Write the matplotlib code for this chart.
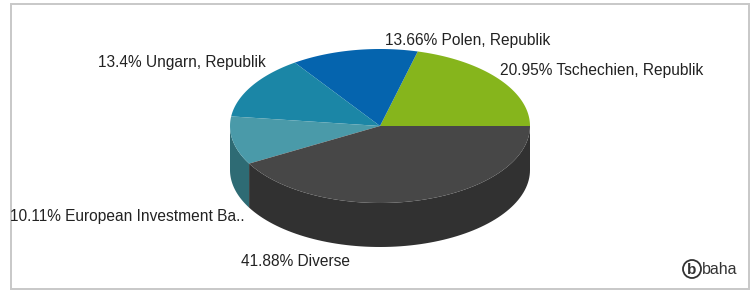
import numpy as np
import matplotlib.pyplot as plt
from matplotlib.patches import Polygon, Rectangle, Circle

plt.rcParams['font.family'] = ['Liberation Sans', 'DejaVu Sans']

# data
names = ['Tschechien, Republik', 'Polen, Republik', 'Ungarn, Republik',
         'European Investment Ba..', 'Diverse']
shares = [20.95, 13.66, 13.4, 10.11, 41.88]
label_text = ['20.95%', '13.66%', '13.4%', '10.11%', '41.88%']

top_colors = ['#86b51c', '#0564ae', '#1b86a6', '#4a9aa9', '#474747']
side_colors = ['#5d7f14', '#04467a', '#135e74', '#2e6b74', '#313131']

# label anchors in pixel space (left x, center y)
label_pos = [(500, 70), (385, 40), (98, 62), (10, 217), (241, 262)]

W, H = 755, 293
fig = plt.figure(figsize=(W / 100, H / 100), dpi=100)
ax = fig.add_axes([0, 0, 1, 1])
ax.set_xlim(0, W)
ax.set_ylim(H, 0)
ax.axis('off')

# frame
ax.add_patch(Rectangle((11, 4), 738, 285, fill=False, edgecolor='#c8c8c8', lw=1.4))

cx, cy, rx, ry, depth = 380, 126, 150, 77, 44


def pt(a, dy=0):
    a = np.radians(a)
    return cx + rx * np.cos(a), cy - ry * np.sin(a) + dy


fracs = np.array(shares) / sum(shares)
edges = np.concatenate([[0], np.cumsum(fracs) * 360])

# side walls (only front half, 180..360 degrees)
for i in range(len(shares)):
    a1, a2 = max(edges[i], 180), min(edges[i + 1], 360)
    if a2 <= a1:
        continue
    angs = np.linspace(a1, a2, 80)
    top = [pt(a) for a in angs]
    bot = [pt(a, depth) for a in angs[::-1]]
    ax.add_patch(Polygon(top + bot, closed=True, facecolor=side_colors[i],
                         edgecolor='none'))

# top surface
for i in range(len(shares)):
    angs = np.linspace(edges[i], edges[i + 1], 120)
    verts = [(cx, cy)] + [pt(a) for a in angs]
    ax.add_patch(Polygon(verts, closed=True, facecolor=top_colors[i],
                         edgecolor='none'))

for i in range(len(shares)):
    x, y = label_pos[i]
    ax.text(x, y, label_text[i] + ' ' + names[i], fontsize=11.2, color='#222222',
            ha='left', va='center')

# logo
ax.add_patch(Circle((692, 269), 9, fill=False, edgecolor='#333333', lw=1.3))
ax.text(692, 269.5, 'b', fontsize=11, fontweight='bold', color='#333333',
        ha='center', va='center')
ax.text(702, 269, 'baha', fontsize=11.5, color='#333333', ha='left', va='center')

fig.savefig('out.png', dpi=100)
